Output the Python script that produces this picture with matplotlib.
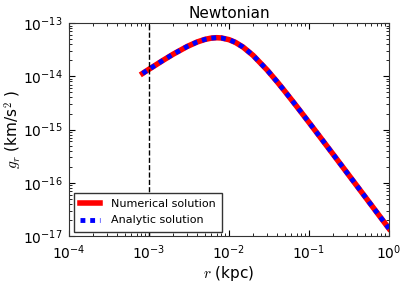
import numpy as np
import matplotlib
matplotlib.use('Agg')
import matplotlib.pyplot as plt

# radius (kpc) and radial acceleration (km/s^2)
r_kpc = [8.3e-4, 1e-3, 1.5e-3, 2e-3, 3e-3, 4e-3, 5e-3, 6e-3, 7e-3, 8e-3,
         1e-2, 1.2e-2, 1.5e-2, 2e-2, 3e-2, 4e-2, 5e-2, 7e-2, 0.1, 0.15,
         0.2, 0.3, 0.5, 0.7, 1.0]
g_num = [1.134e-14, 1.360e-14, 2.002e-14, 2.602e-14, 3.638e-14, 4.418e-14,
         4.937e-14, 5.221e-14, 5.311e-14, 5.257e-14, 4.879e-14, 4.345e-14,
         3.533e-14, 2.469e-14, 1.309e-14, 7.875e-15, 5.205e-15, 2.732e-15,
         1.360e-15, 6.093e-16, 3.437e-16, 1.531e-16, 5.517e-17, 2.815e-17,
         1.380e-17]
g_ana = list(g_num)
r_cut = 1e-3

plt.rcParams['font.family'] = ['DejaVu Sans']
plt.rcParams['mathtext.fontset'] = 'cm'
plt.rcParams['xtick.direction'] = 'in'
plt.rcParams['ytick.direction'] = 'in'
plt.rcParams['xtick.top'] = True
plt.rcParams['ytick.right'] = True
plt.rcParams['xtick.major.size'] = 4
plt.rcParams['ytick.major.size'] = 4
plt.rcParams['xtick.minor.size'] = 2
plt.rcParams['ytick.minor.size'] = 2

fig = plt.figure(figsize=(4.09, 2.85), dpi=100)
ax = fig.add_axes([0.169, 0.172, 0.782, 0.747])

ax.plot(r_kpc, g_num, color='red', lw=4, label='Numerical solution')
ax.plot(r_kpc, g_ana, color='blue', lw=3.5, ls=(0, (1, 1)), label='Analytic solution')
ax.axvline(r_cut, color='black', ls='--', lw=1)

ax.set_xscale('log')
ax.set_yscale('log')
ax.set_xlim(1e-4, 1)
ax.set_ylim(1e-17, 1e-13)
ax.tick_params(labelsize=10, pad=5)
for s in ax.spines.values():
    s.set_color('#333333')

ax.set_xlabel(r'$r$ (kpc)', fontsize=11, labelpad=2)
ax.set_ylabel(r'$g_r$ (km/s$^2$ )', fontsize=11)
ax.yaxis.set_label_coords(-0.14, 0.5)
ax.set_title('Newtonian', fontsize=11, pad=4)

leg = ax.legend(loc='lower left', fontsize=8, fancybox=False, framealpha=1,
                handlelength=1.8, handletextpad=1.0, borderaxespad=0.4,
                labelspacing=0.6, borderpad=0.55)
leg.get_frame().set_edgecolor('#333333')

fig.savefig('out.png', dpi=100)
